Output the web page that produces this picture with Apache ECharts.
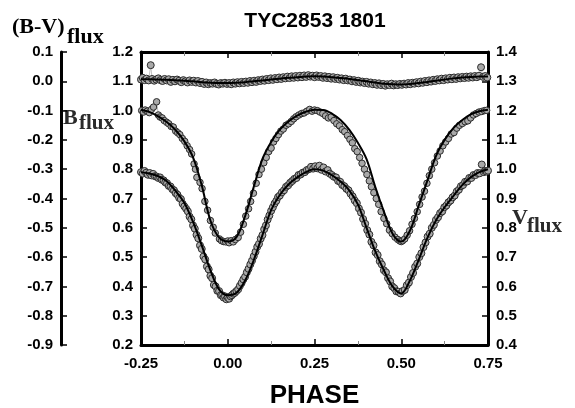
<!DOCTYPE html>
<html>
<head>
<meta charset="utf-8">
<script src="https://cdn.jsdelivr.net/npm/echarts@6/dist/echarts.min.js"></script>
<style>
html,body{margin:0;padding:0;background:#fff;}
#chart{width:575px;height:408px;}
</style>
</head>
<body>
<div id="chart"></div>
<script>
// ---- Data ----
const titleText = 'TYC2853 1801';
const phaseTicks = [-0.25, 0.00, 0.25, 0.50, 0.75];

// Fit curves sampled at these phases
const fitPhase = [-0.25,-0.225,-0.2,-0.175,-0.15,-0.125,-0.1,-0.075,-0.05,-0.025,0,0.025,0.05,0.075,0.1,0.125,0.15,0.175,0.2,0.225,0.25,0.275,0.3,0.325,0.35,0.375,0.4,0.425,0.45,0.475,0.5,0.525,0.55,0.575,0.6,0.625,0.65,0.675,0.7,0.725,0.75];
const bFit = [1.003,0.995,0.980,0.960,0.933,0.895,0.840,0.745,0.625,0.567,0.553,0.568,0.640,0.740,0.835,0.893,0.935,0.963,0.983,0.996,1.003,1.002,0.990,0.968,0.935,0.890,0.834,0.740,0.655,0.580,0.553,0.590,0.675,0.760,0.845,0.900,0.940,0.967,0.987,0.998,1.003];
const vFit = [0.990,0.985,0.976,0.958,0.925,0.885,0.820,0.740,0.655,0.590,0.570,0.578,0.620,0.690,0.775,0.860,0.912,0.948,0.972,0.990,1.000,0.995,0.980,0.958,0.928,0.880,0.800,0.720,0.655,0.600,0.576,0.620,0.690,0.765,0.825,0.870,0.908,0.945,0.972,0.990,1.000];
const bvFit = [0.007,0.007,0.006,0.005,0.004,0.002,0.000,-0.003,-0.005,-0.006,-0.006,-0.005,-0.003,0.000,0.003,0.006,0.009,0.012,0.014,0.016,0.017,0.016,0.014,0.011,0.008,0.004,0.000,-0.004,-0.008,-0.010,-0.011,-0.009,-0.006,-0.002,0.002,0.006,0.010,0.013,0.015,0.016,0.016];

// Observed B flux
const bPhase = [-0.248,-0.243,-0.238,-0.232,-0.226,-0.220,-0.214,-0.205,-0.200,-0.195,-0.189,-0.183,-0.176,-0.170,-0.163,-0.157,-0.150,-0.144,-0.138,-0.131,-0.124,-0.117,-0.110,-0.104,-0.097,-0.093,-0.089,-0.080,-0.074,-0.066,-0.058,-0.050,-0.042,-0.036,-0.024,-0.018,-0.012,-0.006,0.000,0.004,0.010,0.016,0.022,0.030,0.037,0.045,0.052,0.060,0.066,0.074,0.082,0.090,0.097,0.104,0.111,0.118,0.125,0.132,0.139,0.146,0.153,0.160,0.168,0.175,0.183,0.190,0.197,0.205,0.213,0.220,0.228,0.236,0.243,0.250,0.258,0.266,0.274,0.282,0.290,0.298,0.306,0.314,0.322,0.330,0.337,0.345,0.352,0.359,0.366,0.373,0.380,0.387,0.394,0.401,0.408,0.414,0.421,0.428,0.435,0.442,0.450,0.458,0.466,0.474,0.482,0.490,0.496,0.500,0.504,0.510,0.517,0.524,0.531,0.538,0.546,0.553,0.560,0.567,0.574,0.581,0.588,0.596,0.604,0.612,0.620,0.628,0.636,0.644,0.652,0.660,0.668,0.676,0.684,0.692,0.700,0.708,0.716,0.724,0.732,0.740,0.746];
const bFlux = [1.000,0.995,1.002,0.998,0.993,1.004,1.012,1.030,0.985,0.978,0.975,0.966,0.960,0.955,0.946,0.944,0.930,0.924,0.918,0.905,0.895,0.880,0.867,0.852,0.818,0.800,0.772,0.755,0.734,0.690,0.660,0.625,0.602,0.582,0.562,0.556,0.553,0.552,0.555,0.549,0.556,0.552,0.560,0.567,0.585,0.612,0.640,0.665,0.690,0.718,0.752,0.782,0.800,0.822,0.840,0.860,0.872,0.893,0.905,0.918,0.930,0.937,0.950,0.955,0.963,0.972,0.979,0.985,0.990,0.992,0.998,1.004,0.998,1.002,1.000,0.995,0.990,0.982,0.975,0.978,0.966,0.955,0.948,0.935,0.928,0.915,0.902,0.890,0.870,0.860,0.840,0.820,0.800,0.782,0.760,0.740,0.720,0.700,0.680,0.655,0.632,0.614,0.592,0.580,0.568,0.560,0.555,0.553,0.556,0.562,0.575,0.590,0.612,0.632,0.655,0.680,0.705,0.725,0.752,0.778,0.800,0.822,0.845,0.862,0.880,0.893,0.905,0.920,0.925,0.940,0.950,0.956,0.962,0.965,0.975,0.985,0.990,0.995,0.997,1.000,1.001];

// Observed V flux
const vPhase = [-0.250,-0.245,-0.240,-0.235,-0.230,-0.225,-0.220,-0.215,-0.210,-0.205,-0.200,-0.195,-0.190,-0.185,-0.180,-0.175,-0.170,-0.165,-0.160,-0.155,-0.150,-0.145,-0.140,-0.135,-0.130,-0.125,-0.120,-0.115,-0.110,-0.105,-0.100,-0.095,-0.090,-0.085,-0.080,-0.075,-0.070,-0.065,-0.060,-0.055,-0.050,-0.045,-0.040,-0.035,-0.030,-0.025,-0.020,-0.016,-0.012,-0.008,-0.004,0.000,0.004,0.008,0.012,0.016,0.020,0.025,0.030,0.035,0.040,0.045,0.050,0.055,0.060,0.065,0.070,0.075,0.080,0.085,0.090,0.095,0.100,0.105,0.110,0.115,0.120,0.125,0.130,0.135,0.140,0.145,0.150,0.156,0.162,0.168,0.174,0.180,0.186,0.192,0.198,0.204,0.210,0.216,0.222,0.228,0.234,0.240,0.246,0.252,0.258,0.264,0.270,0.276,0.282,0.288,0.294,0.300,0.306,0.312,0.318,0.324,0.330,0.336,0.342,0.348,0.354,0.360,0.366,0.372,0.378,0.384,0.390,0.396,0.402,0.408,0.414,0.420,0.426,0.432,0.438,0.444,0.450,0.456,0.462,0.468,0.474,0.480,0.486,0.492,0.498,0.504,0.510,0.516,0.522,0.528,0.534,0.540,0.546,0.552,0.558,0.564,0.570,0.576,0.582,0.588,0.594,0.600,0.606,0.612,0.618,0.624,0.630,0.636,0.642,0.648,0.654,0.660,0.666,0.672,0.678,0.684,0.690,0.696,0.702,0.708,0.714,0.720,0.726,0.732,0.738,0.742,0.746,0.750];
const vFlux = [0.990,0.985,0.994,0.988,0.981,0.987,0.979,0.984,0.976,0.975,0.970,0.972,0.964,0.962,0.955,0.952,0.943,0.941,0.932,0.928,0.918,0.913,0.902,0.898,0.882,0.873,0.865,0.856,0.838,0.829,0.808,0.797,0.776,0.764,0.740,0.728,0.702,0.692,0.668,0.658,0.636,0.628,0.605,0.600,0.585,0.584,0.570,0.570,0.562,0.566,0.556,0.562,0.558,0.566,0.570,0.575,0.578,0.584,0.590,0.602,0.612,0.624,0.633,0.648,0.660,0.675,0.688,0.703,0.718,0.735,0.745,0.763,0.775,0.795,0.808,0.828,0.842,0.858,0.870,0.883,0.892,0.905,0.910,0.921,0.928,0.940,0.945,0.954,0.960,0.967,0.970,0.980,0.982,0.988,0.990,0.997,1.000,1.008,1.002,1.010,1.003,1.012,0.998,1.006,0.992,0.997,0.985,0.980,0.974,0.972,0.960,0.957,0.946,0.942,0.933,0.928,0.916,0.907,0.893,0.884,0.866,0.852,0.830,0.814,0.792,0.777,0.752,0.740,0.716,0.707,0.686,0.675,0.655,0.648,0.628,0.617,0.600,0.594,0.583,0.582,0.576,0.584,0.588,0.604,0.613,0.632,0.646,0.667,0.678,0.700,0.713,0.734,0.750,0.770,0.780,0.800,0.810,0.827,0.836,0.850,0.856,0.870,0.876,0.887,0.893,0.904,0.910,0.924,0.930,0.942,0.946,0.957,0.958,0.970,0.970,0.980,0.980,0.987,0.986,1.016,0.990,0.994,0.992,0.995];

// Observed (B-V) flux
const bvPhase = [-0.250,-0.245,-0.240,-0.234,-0.228,-0.222,-0.218,-0.212,-0.206,-0.200,-0.194,-0.188,-0.182,-0.176,-0.170,-0.164,-0.158,-0.152,-0.146,-0.140,-0.134,-0.128,-0.122,-0.116,-0.110,-0.104,-0.098,-0.092,-0.086,-0.080,-0.074,-0.068,-0.062,-0.056,-0.050,-0.044,-0.038,-0.032,-0.026,-0.020,-0.014,-0.008,-0.002,0.004,0.010,0.016,0.022,0.028,0.034,0.040,0.046,0.052,0.058,0.064,0.070,0.076,0.082,0.088,0.094,0.100,0.106,0.112,0.118,0.124,0.130,0.136,0.142,0.148,0.154,0.160,0.166,0.172,0.178,0.184,0.190,0.196,0.202,0.208,0.214,0.220,0.226,0.232,0.238,0.244,0.250,0.256,0.262,0.268,0.274,0.280,0.286,0.292,0.298,0.304,0.310,0.316,0.322,0.328,0.334,0.340,0.346,0.352,0.358,0.364,0.370,0.376,0.382,0.388,0.394,0.400,0.406,0.412,0.418,0.424,0.430,0.436,0.442,0.448,0.454,0.460,0.466,0.472,0.478,0.484,0.490,0.496,0.502,0.508,0.514,0.520,0.526,0.532,0.538,0.544,0.550,0.556,0.562,0.568,0.574,0.580,0.586,0.592,0.598,0.604,0.610,0.616,0.622,0.628,0.634,0.640,0.646,0.652,0.658,0.664,0.670,0.676,0.682,0.688,0.694,0.700,0.706,0.712,0.718,0.724,0.730,0.736,0.742,0.748];
const bvFlux = [0.006,0.012,0.004,0.009,0.003,0.055,0.008,0.002,0.006,0.010,0.004,0.001,0.008,0.003,0.007,-0.002,0.005,0.000,0.006,0.002,-0.003,0.004,0.000,-0.004,0.003,-0.002,0.002,-0.004,0.001,-0.006,-0.002,-0.009,-0.004,-0.010,-0.006,-0.008,-0.004,-0.009,-0.011,-0.006,-0.008,-0.005,-0.009,-0.006,-0.010,-0.004,-0.008,-0.003,-0.007,-0.002,-0.006,-0.001,-0.005,0.001,-0.003,0.002,-0.002,0.004,0.001,0.006,0.002,0.008,0.004,0.010,0.005,0.011,0.007,0.013,0.008,0.014,0.010,0.016,0.011,0.017,0.012,0.018,0.013,0.019,0.014,0.020,0.015,0.021,0.016,0.019,0.014,0.020,0.015,0.018,0.012,0.017,0.011,0.015,0.009,0.014,0.008,0.012,0.006,0.010,0.004,0.009,0.003,0.006,0.000,0.004,-0.002,0.002,-0.004,-0.001,-0.006,-0.002,-0.008,-0.004,-0.010,-0.006,-0.012,-0.007,-0.013,-0.009,-0.015,-0.010,-0.013,-0.008,-0.014,-0.010,-0.013,-0.009,-0.012,-0.008,-0.011,-0.006,-0.010,-0.005,-0.008,-0.003,-0.007,-0.001,-0.005,0.001,-0.003,0.003,-0.001,0.005,0.001,0.007,0.003,0.009,0.004,0.010,0.006,0.012,0.007,0.013,0.008,0.014,0.010,0.015,0.011,0.016,0.012,0.017,0.013,0.018,0.014,0.019,0.048,0.015,0.018,0.013];

// ---- Chart ----
const pairs = (xs, ys) => xs.map((x, i) => [x, ys[i]]);
const fmt1 = v => (Math.abs(v) < 1e-9 ? 0 : v).toFixed(1);
const fmt2 = v => (Math.abs(v) < 1e-9 ? 0 : v).toFixed(2);

const SANS = 'Liberation Sans, Arial, sans-serif';
const SERIF = 'Liberation Serif, Times New Roman, serif';
const axisLabelStyle = {fontFamily: SANS, fontWeight: 'bold', fontSize: 15, color: '#000'};

function yAx(min, max, position, offset, margin) {
  return {
    type: 'value', min: min, max: max, interval: 0.1, position: position, offset: offset,
    axisLine: {show: true, onZero: false, lineStyle: {color: '#000', width: 3}},
    axisTick: {show: true, inside: true, length: 6, lineStyle: {color: '#000', width: 1.5}},
    axisLabel: Object.assign({margin: margin, formatter: fmt1}, axisLabelStyle),
    splitLine: {show: false}
  };
}
function xAx(position, showLabel) {
  return {
    type: 'value', min: phaseTicks[0], max: phaseTicks[phaseTicks.length - 1], interval: 0.25, position: position,
    axisLine: {show: true, onZero: false, lineStyle: {color: '#000', width: 3}},
    axisTick: {show: true, inside: true, length: 6, lineStyle: {color: '#000', width: 1.5}},
    minorTick: {show: true, splitNumber: 2, length: 4, lineStyle: {color: '#888', width: 1}},
    axisLabel: Object.assign({show: showLabel, margin: 11, formatter: fmt2}, axisLabelStyle),
    splitLine: {show: false},
    minorSplitLine: {show: false},
    name: showLabel ? 'PHASE' : '',
    nameLocation: 'middle', nameGap: 38,
    nameTextStyle: {fontFamily: SANS, fontWeight: 'bold', fontSize: 26, color: '#000'}
  };
}

function obsSeries(xs, ys, yIdx, size) {
  return {
    type: 'line', xAxisIndex: 0, yAxisIndex: yIdx, data: pairs(xs, ys),
    symbol: 'circle', symbolSize: size, showSymbol: true,
    lineStyle: {color: '#9a9a9a', width: 0.6},
    itemStyle: {color: '#a9a9a9', borderColor: '#2b2b2b', borderWidth: 1}, z: 2, silent: true
  };
}
function fitSeries(ys, yIdx) {
  return {
    type: 'line', xAxisIndex: 0, yAxisIndex: yIdx, data: pairs(fitPhase, ys),
    symbol: 'none', smooth: 0.35, lineStyle: {color: '#000', width: 2}, z: 3, silent: true
  };
}

const chart = echarts.init(document.getElementById('chart'), null, {renderer: 'canvas'});
chart.setOption({
  animation: false,
  backgroundColor: '#fff',
  grid: {left: 141, right: 87, top: 52, bottom: 63, containLabel: false, outerBoundsMode: 'none'},
  xAxis: [xAx('bottom', true), xAx('top', false)],
  yAxis: [yAx(0.2, 1.2, 'left', 0, 8), yAx(-0.9, 0.1, 'left', 80, 8), yAx(0.4, 1.4, 'right', 0, 8)],
  series: [
    obsSeries(bvPhase, bvFlux, 1, 7),
    obsSeries(bPhase, bFlux, 0, 6.5),
    obsSeries(vPhase, vFlux, 2, 7),
    fitSeries(bvFit, 1),
    fitSeries(bFit, 0),
    fitSeries(vFit, 2)
  ],
  graphic: [
    {type: 'text', x: 315, y: 21, style: {text: titleText, fontFamily: SANS, fontWeight: 'bold', fontSize: 21, fill: '#000', align: 'center', verticalAlign: 'middle'}},
    {type: 'text', x: 12, y: 27, style: {text: '(B-V)', fontFamily: SERIF, fontWeight: 'bold', fontSize: 22, fill: '#000', align: 'left', verticalAlign: 'middle'}},
    {type: 'text', x: 67, y: 37, style: {text: 'flux', fontFamily: SERIF, fontWeight: 'bold', fontSize: 22, fill: '#000', align: 'left', verticalAlign: 'middle'}},
    {type: 'text', x: 63, y: 118, style: {text: 'B', fontFamily: SERIF, fontWeight: 'bold', fontSize: 22, fill: '#2a2a2a', align: 'left', verticalAlign: 'middle'}},
    {type: 'text', x: 79, y: 124, style: {text: 'flux', fontFamily: SERIF, fontWeight: 'bold', fontSize: 21, fill: '#2a2a2a', align: 'left', verticalAlign: 'middle'}},
    {type: 'text', x: 512, y: 218, style: {text: 'V', fontFamily: SERIF, fontWeight: 'bold', fontSize: 22, fill: '#2a2a2a', align: 'left', verticalAlign: 'middle'}},
    {type: 'text', x: 527, y: 227, style: {text: 'flux', fontFamily: SERIF, fontWeight: 'bold', fontSize: 21, fill: '#2a2a2a', align: 'left', verticalAlign: 'middle'}}
  ]
});
</script>
</body>
</html>
